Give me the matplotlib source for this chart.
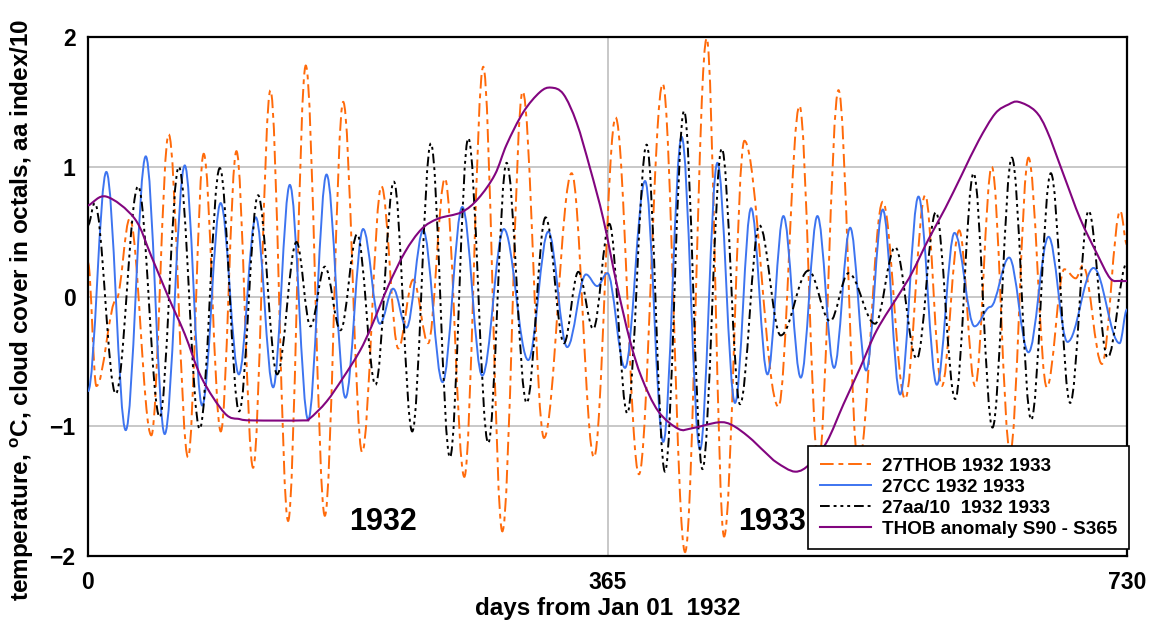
import numpy as np
import matplotlib
matplotlib.use("Agg")
import matplotlib.pyplot as plt
from matplotlib.path import Path
from matplotlib.patches import PathPatch
from matplotlib.lines import Line2D

plt.rcParams['font.family'] = ['Liberation Sans', 'DejaVu Sans']
plt.rcParams['font.weight'] = 'bold'
plt.rcParams['mathtext.fontset'] = 'custom'
plt.rcParams['mathtext.bf'] = 'Liberation Sans:bold'
plt.rcParams['mathtext.rm'] = 'Liberation Sans:bold'

# extrema (day, value)
thob_days = [0, 5.9, 20, 29.3, 44.5, 56.7, 70.3, 81.3, 93.3, 104.3, 116, 128.2, 140.6, 153, 166.4,
             179.3, 192.6, 206.2, 218, 228.5, 239, 250.8, 264.4, 277.7, 291.1, 305.4, 320.4, 339.8,
             355.5, 370.7, 387.1, 403.8, 419.5, 434.7, 446.9, 461.2, 485.1, 499.9, 513.2, 527.3,
             541.3, 558.4, 574.1, 588.2, 599.9, 612.1, 623.3, 635, 647.9, 660.8, 673.7, 686, 694,
             699, 712.4, 725.3, 730]
thob_vals = [0.26, -0.69, -0.02, 0.60, -1.07, 1.25, -1.24, 1.10, -1.04, 1.12, -1.32, 1.59, -1.73, 1.78,
             -1.69, 1.50, -1.20, 0.85, -0.40, 0.13, -0.36, 0.91, -1.39, 1.77, -1.81, 1.58, -1.09, 0.95,
             -1.24, 1.38, -1.37, 1.64, -1.97, 1.99, -1.85, 1.20, -0.85, 1.47, -1.30, 1.59, -1.30, 0.73,
             -0.79, 0.78, -0.69, 0.51, -0.69, 1.00, -1.20, 1.07, -0.70, 0.21, 0.14, 0.24, -0.52, 0.66,
             0.40]

cc_days = [0, 12.9, 26.5, 40.6, 53.9, 68, 80.2, 93.2, 106, 117.9, 130.1, 141.8, 154.7, 167.6, 180.9,
           193.3, 205.1, 214.4, 223.8, 235.5, 249.1, 263, 277, 292.2, 309.3, 323.4, 336.7, 349.9,
           357.8, 364.9, 377.3, 391.4, 404.2, 417.1, 430, 442.2, 454.6, 465.9, 477.4, 488.6, 500.8,
           512.5, 524.2, 535.5, 546.7, 558.4, 570.6, 583.5, 596.4, 608.8, 622.9, 634, 647.2, 660.8,
           674.9, 688.2, 706.5, 724.8, 730]
cc_vals = [-0.73, 0.96, -1.03, 1.08, -1.06, 1.01, -0.84, 0.72, -0.60, 0.61, -0.70, 0.86, -0.95, 0.94,
           -0.78, 0.52, -0.21, 0.06, -0.24, 0.51, -0.66, 0.69, -0.61, 0.52, -0.49, 0.50, -0.39, 0.17,
           0.08, 0.18, -0.55, 0.89, -1.12, 1.23, -1.18, 1.03, -0.82, 0.68, -0.60, 0.62, -0.625, 0.62,
           -0.55, 0.53, -0.57, 0.67, -0.755, 0.77, -0.68, 0.49, -0.23, -0.08, 0.30, -0.43, 0.46, -0.35,
           0.22, -0.36, -0.10]

aa_days = [0, 4.7, 19.5, 35.2, 50.4, 63.8, 78.5, 92.6, 106.2, 119.5, 132.9, 146.5, 156.3, 166.4,
           177.4, 189.1, 202, 214.9, 227.8, 240.9, 254.3, 267.2, 281.2, 294.1, 308.2, 321.5, 334.4,
           344.5, 355, 366.3, 378.9, 392.5, 405.4, 418.8, 431.7, 445.3, 458.1, 471.7, 486.7, 506.2,
           521.4, 534.3, 553, 567.1, 582.3, 595.7, 609.3, 622.2, 635.5, 649.1, 662.7, 676.5, 690.1,
           703, 716.4, 730]
aa_vals = [0.55, 0.72, -0.75, 0.85, -0.93, 1.00, -1.02, 0.99, -0.885, 0.78, -0.60, 0.42, -0.23, 0.23,
           -0.26, 0.48, -0.68, 0.885, -1.04, 1.18, -1.24, 1.22, -1.13, 1.03, -0.82, 0.61, -0.36, 0.19,
           -0.25, 0.56, -0.90, 1.17, -1.35, 1.43, -1.33, 1.14, -0.83, 0.55, -0.30, 0.20, -0.19, 0.18,
           -0.21, 0.38, -0.48, 0.65, -0.79, 0.95, -1.01, 1.07, -0.95, 0.95, -0.82, 0.66, -0.47, 0.26]

anom_days = [0, 12.9, 32.8, 44.5, 56.3, 68, 79.7, 96.1, 106.6, 116, 151, 155.8, 167.6, 179.3, 191,
             199.2, 210.9, 222.6, 234.4, 246, 262.5, 274.2, 285.9, 294.1, 305.8, 317.5, 325.3, 334,
             343.3, 352.7, 362, 371.4, 380.8, 389, 400.7, 414.8, 424.2, 442.9, 452.3, 464, 475.7,
             484, 496.8, 507.3, 519.1, 530.8, 542.5, 554.2, 570.6, 578.8, 590.5, 602.3, 614, 625.7,
             637.4, 646.8, 653.8, 665.5, 673.7, 685.4, 697.1, 708.9, 718.2, 725.3, 730]
anom_vals = [0.70, 0.77, 0.60, 0.31, 0.0, -0.29, -0.625, -0.90, -0.945, -0.955, -0.955, -0.94, -0.81,
             -0.625, -0.42, -0.23, 0.08, 0.34, 0.52, 0.60, 0.65, 0.755, 0.94, 1.17, 1.42, 1.575, 1.61,
             1.56, 1.34, 0.99, 0.60, 0.10, -0.34, -0.625, -0.885, -1.02, -1.016, -0.97, -0.99, -1.08,
             -1.20, -1.28, -1.35, -1.29, -1.12, -0.83, -0.55, -0.26, 0.03, 0.18, 0.44, 0.68, 0.94,
             1.20, 1.41, 1.48, 1.50, 1.43, 1.28, 0.94, 0.60, 0.33, 0.14, 0.12, 0.12]

x_ticks = [0, 365, 730]
y_ticks = [-2, -1, 0, 1, 2]
labels = ["27THOB 1932 1933", "27CC 1932 1933", "27aa/10  1932 1933", "THOB anomaly S90 - S365"]

c_orange = '#FF6A0A'
c_blue = '#3D74F0'
c_purple = '#82057F'


def smooth_path(days, vals, k=0.36):
    # bezier segments with flat tangents at each read extremum
    verts = [(days[0], vals[0])]
    codes = [Path.MOVETO]
    for i in range(len(days) - 1):
        dx = days[i + 1] - days[i]
        verts += [(days[i] + k * dx, vals[i]), (days[i + 1] - k * dx, vals[i + 1]),
                  (days[i + 1], vals[i + 1])]
        codes += [Path.CURVE4] * 3
    return Path(verts, codes)


def spline_path(days, vals):
    # catmull-rom style bezier through the read points
    p = np.column_stack([days, vals]).astype(float)
    m = np.zeros_like(p)
    m[1:-1] = (p[2:] - p[:-2]) / 2
    m[0] = p[1] - p[0]
    m[-1] = p[-1] - p[-2]
    verts = [tuple(p[0])]
    codes = [Path.MOVETO]
    for i in range(len(p) - 1):
        verts += [tuple(p[i] + m[i] / 3), tuple(p[i + 1] - m[i + 1] / 3), tuple(p[i + 1])]
        codes += [Path.CURVE4] * 3
    return Path(verts, codes)


fig = plt.figure(figsize=(11.54, 6.26), dpi=100)
ax = fig.add_axes([88 / 1154, 1 - 556 / 626, (1127 - 88) / 1154, (556 - 37) / 626])

for y in [-1, 0, 1]:
    ax.axhline(y, color='#BFBFBF', lw=1.2, zorder=0)
ax.axvline(365, color='#BFBFBF', lw=1.2, zorder=0)

ls_orange = (0, (7, 2.5, 2.5, 2.5))
ls_black = (0, (5, 2, 1.5, 2, 1.5, 2, 1.5, 2))

ax.add_patch(PathPatch(smooth_path(thob_days, thob_vals), fill=False, edgecolor=c_orange,
                       lw=1.4, linestyle=ls_orange, zorder=2))
ax.add_patch(PathPatch(smooth_path(cc_days, cc_vals), fill=False, edgecolor=c_blue,
                       lw=1.4, zorder=3))
ax.add_patch(PathPatch(smooth_path(aa_days, aa_vals), fill=False, edgecolor='black',
                       lw=1.4, linestyle=ls_black, zorder=4))
ax.add_patch(PathPatch(spline_path(anom_days, anom_vals), fill=False, edgecolor=c_purple,
                       lw=1.5, zorder=5))

ax.set_xlim(0, 730)
ax.set_ylim(-2, 2)
ax.set_xticks(x_ticks)
ax.set_yticks(y_ticks)
ax.tick_params(length=0, labelsize=16.5)
ax.tick_params(axis='x', pad=11)
ax.tick_params(axis='y', pad=9)
for s in ax.spines.values():
    s.set_linewidth(1.6)

ax.text(207, -1.74, "1932", fontsize=22, fontweight='bold', ha='center', va='center')
ax.text(480.5, -1.74, "1933", fontsize=22, fontweight='bold', ha='center', va='center')

fig.text(608 / 1154, 1 - 608 / 626, "days from Jan 01  1932", fontsize=17.5, fontweight='bold',
         ha='center', va='center')
fig.text(22 / 1154, 1 - 310 / 626,
         r"temperature, $^{\mathbf{o}}$C, cloud cover in octals, aa index/10",
         fontsize=17.5, fontweight='bold', rotation=90, ha='center', va='center')

handles = [Line2D([], [], color=c_orange, lw=1.4, linestyle=ls_orange),
           Line2D([], [], color=c_blue, lw=1.4),
           Line2D([], [], color='black', lw=1.4, linestyle=ls_black),
           Line2D([], [], color=c_purple, lw=1.5)]
leg = fig.legend(handles, labels, loc='lower right', bbox_to_anchor=(1129 / 1154, 1 - 549 / 626),
                 borderaxespad=0, fontsize=13.6, frameon=True, fancybox=False, framealpha=1,
                 edgecolor='black', handlelength=2.75, handletextpad=0.58, labelspacing=0.2,
                 borderpad=0.6)
leg.get_frame().set_linewidth(1.2)
leg.set_zorder(10)

fig.savefig("out.png", dpi=100)
